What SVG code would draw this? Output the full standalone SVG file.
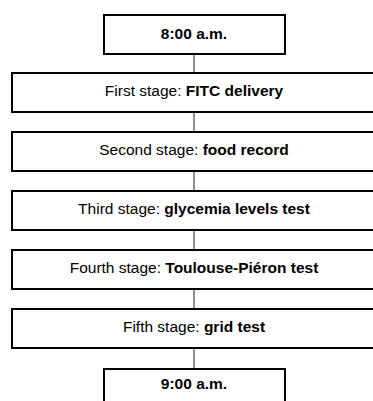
<svg xmlns="http://www.w3.org/2000/svg" width="373" height="401" viewBox="0 0 373 401">
<style>
.box{fill:#fff;stroke:#000;stroke-width:2}
.t{font-family:"Liberation Sans",Arial,sans-serif;font-size:15.5px;fill:#000;text-anchor:middle}
.b{font-weight:bold}
.c{stroke:#222;stroke-width:1;fill:none}
</style>
<rect width="373" height="401" fill="#fff"/>
<g id="connectors">
<line class="c" x1="194" y1="54" x2="194" y2="73"/>
<line class="c" x1="194" y1="112" x2="194" y2="132"/>
<line class="c" x1="194" y1="171" x2="194" y2="191"/>
<line class="c" x1="194" y1="230" x2="194" y2="250"/>
<line class="c" x1="194" y1="289" x2="194" y2="309"/>
<line class="c" x1="194" y1="348" x2="194" y2="369"/>
</g>
<g id="start">
<rect class="box" x="104" y="15" width="181" height="39"/>
<text class="t b" x="194" y="39">8:00 a.m.</text>
</g>
<g id="stage1">
<rect class="box" x="12" y="73" width="372" height="39"/>
<text class="t" x="194" y="96">First stage: <tspan class="b">FITC delivery</tspan></text>
</g>
<g id="stage2">
<rect class="box" x="12" y="132" width="372" height="39"/>
<text class="t" x="194" y="155">Second stage: <tspan class="b">food record</tspan></text>
</g>
<g id="stage3">
<rect class="box" x="12" y="191" width="372" height="39"/>
<text class="t" x="194" y="214">Third stage: <tspan class="b">glycemia levels test</tspan></text>
</g>
<g id="stage4">
<rect class="box" x="12" y="250" width="372" height="39"/>
<text class="t" x="194" y="273">Fourth stage: <tspan class="b">Toulouse-Piéron test</tspan></text>
</g>
<g id="stage5">
<rect class="box" x="12" y="309" width="372" height="39"/>
<text class="t" x="194" y="332">Fifth stage: <tspan class="b">grid test</tspan></text>
</g>
<g id="end">
<rect class="box" x="104" y="369" width="181" height="39"/>
<text class="t b" x="194" y="389">9:00 a.m.</text>
</g>
</svg>
